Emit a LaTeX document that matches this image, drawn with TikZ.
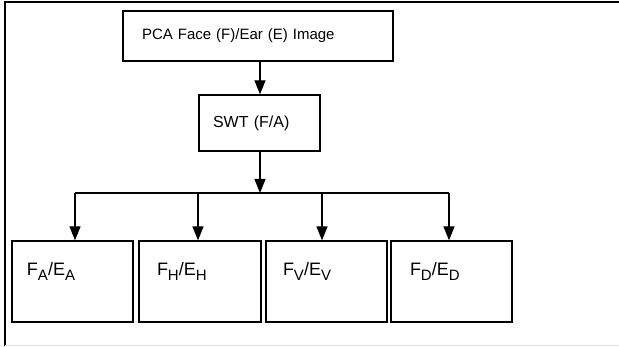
\documentclass[tikz,border=0pt]{standalone}
\usepackage{fontspec}
\setmainfont{Liberation Sans}
\usepackage{tikz}
\usetikzlibrary{arrows.meta}

\newcommand{\lowsub}[1]{\raisebox{-5pt}{\fontsize{15}{15}\selectfont #1}}

\begin{document}
\begin{tikzpicture}[x=1pt, y=-1pt,
    main/.style = {draw=black, line width=1.3pt, rectangle, align=left,
                   inner xsep=0pt, inner ysep=0pt, font=\fontsize{15}{18}\selectfont},
    band/.style = {main, minimum height=81pt, text depth=26pt, font=\fontsize{18}{21}\selectfont},
    arr/.style = {line width=1.3pt, -{Triangle[width=11pt, length=14pt]}}]
        \useasboundingbox (0,0) rectangle (619,347);
        \draw[line width=1.2pt] (5,346) -- (5,2) -- (619,2);
        \draw[black!12, line width=1pt] (5,346) -- (619,346);
        \node[main, minimum width=270pt, minimum height=50pt, text width=232pt] (pca) at (258,36) {PCA Face (F)/Ear (E) Image};
        \node[main, minimum width=121pt, minimum height=56pt, text width=93pt, font=\fontsize{16}{19}\selectfont] (swt) at (259.5,123) {SWT (F/A)};
        \node[band, minimum width=121pt, text width=91pt] (a) at (72.5,281.5) {F\lowsub{A}/E\lowsub{A}};
        \node[band, minimum width=122pt, text width=86pt] (h) at (200,281.5) {F\lowsub{H}/E\lowsub{H}};
        \node[band, minimum width=121pt, text width=87pt] (v) at (326.5,281.5) {F\lowsub{V}/E\lowsub{V}};
        \node[band, minimum width=121pt, text width=83pt] (d) at (451.5,281.5) {F\lowsub{D}/E\lowsub{D}};
        \coordinate (split) at (260,193);
        \draw[arr] (pca.south -| split) -- (swt.north -| split);
        \draw[arr] (swt.south -| split) -- (split);
        \draw[line width=1.3pt] (75,193) -- (449,193);
        \draw[arr] (75,193) -- (a.north -| 75,0);
        \draw[arr] (198,193) -- (h.north -| 198,0);
        \draw[arr] (322,193) -- (v.north -| 322,0);
        \draw[arr] (449,193) -- (d.north -| 449,0);
    \end{tikzpicture}
\end{document}
